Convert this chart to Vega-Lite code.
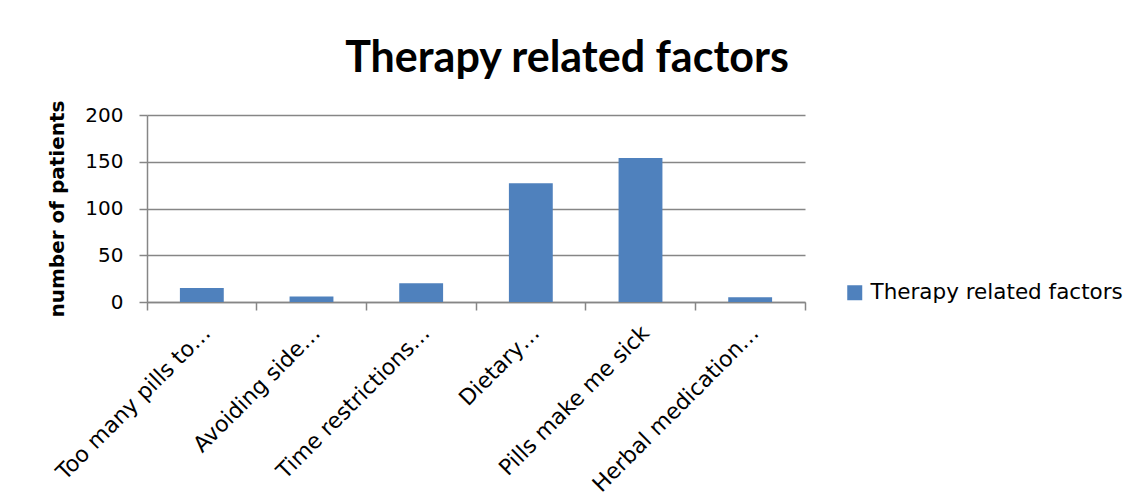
{
  "$schema": "https://vega.github.io/schema/vega-lite/v6.json",
  "width": 658,
  "height": 187,
  "autosize": {"type": "none"},
  "padding": {"left": 147, "top": 115, "right": 331, "bottom": 196},
  "background": "white",
  "title": {
    "text": "Therapy related factors",
    "font": "Lato",
    "fontSize": 43,
    "fontWeight": "bold",
    "color": "#000000",
    "anchor": "middle",
    "frame": "group",
    "dx": 91,
    "dy": 5,
    "offset": 24
  },
  "data": {
    "values": [
      {"factor": "Too many pills to…", "patients": 15, "series": "Therapy related factors"},
      {"factor": "Avoiding side…", "patients": 6, "series": "Therapy related factors"},
      {"factor": "Time restrictions…", "patients": 20, "series": "Therapy related factors"},
      {"factor": "Dietary…", "patients": 127, "series": "Therapy related factors"},
      {"factor": "Pills make me sick", "patients": 154, "series": "Therapy related factors"},
      {"factor": "Herbal medication…", "patients": 5, "series": "Therapy related factors"}
    ]
  },
  "mark": {"type": "bar", "width": {"band": 0.4}},
  "encoding": {
    "x": {
      "field": "factor",
      "type": "nominal",
      "sort": null,
      "scale": {"paddingInner": 0, "paddingOuter": 0},
      "axis": {
        "title": null,
        "bandPosition": 1,
        "tickExtra": true,
        "labelOffset": 5,
        "labelAngle": -45,
        "labelAlign": "right",
        "labelBaseline": "middle",
        "labelPadding": 19,
        "labelFont": "DejaVu Sans",
        "labelFontSize": 22,
        "labelColor": "#000000",
        "labelLimit": 400,
        "tickSize": 8,
        "tickColor": "#868686",
        "domainColor": "#868686",
        "tickWidth": 1.5,
        "domainWidth": 1.5
      }
    },
    "y": {
      "field": "patients",
      "type": "quantitative",
      "scale": {"domain": [0, 200], "nice": false},
      "axis": {
        "title": "number of patients",
        "titleFont": "DejaVu Sans",
        "titleFontSize": 20,
        "titleFontWeight": "bold",
        "titleColor": "#000000",
        "titlePadding": 17,
        "values": [0, 50, 100, 150, 200],
        "labelFont": "DejaVu Sans",
        "labelFontSize": 20,
        "labelColor": "#000000",
        "labelPadding": 16,
        "tickSize": 8,
        "tickColor": "#868686",
        "domainColor": "#868686",
        "gridColor": "#868686",
        "grid": true,
        "gridWidth": 1.5,
        "tickWidth": 1.5,
        "domainWidth": 1.5
      }
    },
    "color": {
      "field": "series",
      "type": "nominal",
      "scale": {"range": ["#4F81BD"]},
      "legend": {
        "title": null,
        "orient": "none",
        "legendX": 697,
        "legendY": 167,
        "padding": 0,
        "symbolType": "square",
        "symbolSize": 225,
        "symbolStrokeWidth": 0,
        "labelFont": "DejaVu Sans",
        "labelFontSize": 21.5,
        "labelColor": "#000000",
        "labelOffset": 5,
        "labelLimit": 400
      }
    }
  },
  "config": {"view": {"stroke": null}}
}
